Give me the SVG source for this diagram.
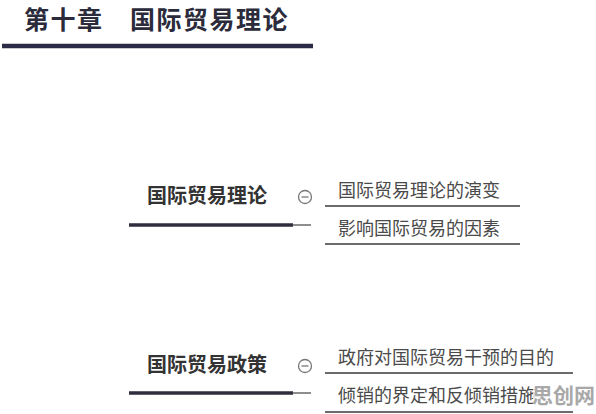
<svg xmlns="http://www.w3.org/2000/svg" width="596" height="414" viewBox="0 0 596 414">
<style>
.title{font-family:"Noto Sans CJK SC","Noto Sans",sans-serif;font-weight:bold;font-size:25px;letter-spacing:1.5px;fill:#2b2b3b}
.main{font-family:"Noto Sans CJK SC","Noto Sans",sans-serif;font-weight:bold;font-size:20px;fill:#333333}
.sub{font-family:"Noto Sans CJK SC","Noto Sans",sans-serif;font-size:18px;fill:#4a4a4a}
.thick{stroke:#2e2e3e;stroke-width:3.5;fill:none}
.thin{stroke:#444;stroke-width:1.2;fill:none}
.ul{stroke:#3a3a3a;stroke-width:1.3;fill:none}
.toggle{fill:#fff;stroke:#777;stroke-width:1.3}
.wm{font-family:"Noto Sans CJK SC",sans-serif;font-weight:bold;font-size:21px;fill:#a8a8a8}
</style>
<rect width="596" height="414" fill="#ffffff"/>
<g id="header">
<text class="title" x="24" y="29">第十章　国际贸易理论</text>
<line x1="2" y1="46" x2="313" y2="46" stroke="#2b2b45" stroke-width="4.5"/>
</g>
<g id="connectors">
<line class="thick" x1="129" y1="225" x2="293" y2="225"/>
<line class="thin" x1="292" y1="225" x2="311" y2="225"/>
<line class="thick" x1="129" y1="393" x2="293" y2="393"/>
<line class="thin" x1="292" y1="393" x2="311" y2="393"/>
</g>
<g id="node-theory">
<text class="main" x="147" y="203">国际贸易理论</text>
<circle class="toggle" cx="305" cy="197" r="6.5"/>
<line x1="301.5" y1="197" x2="308.5" y2="197" stroke="#777" stroke-width="1.3"/>
</g>
<g id="node-theory-evolution">
<text class="sub" x="338" y="197">国际贸易理论的演变</text>
<line class="ul" x1="325" y1="206" x2="520" y2="206"/>
</g>
<g id="node-theory-factors">
<text class="sub" x="338" y="235">影响国际贸易的因素</text>
<line class="ul" x1="325" y1="244" x2="520" y2="244"/>
</g>
<g id="node-policy">
<text class="main" x="147" y="372">国际贸易政策</text>
<circle class="toggle" cx="305" cy="366" r="6.5"/>
<line x1="301.5" y1="366" x2="308.5" y2="366" stroke="#777" stroke-width="1.3"/>
</g>
<g id="node-policy-purpose">
<text class="sub" x="338" y="364">政府对国际贸易干预的目的</text>
<line class="ul" x1="325" y1="373" x2="573" y2="373"/>
</g>
<g id="node-policy-dumping">
<text class="sub" x="338" y="402">倾销的界定和反倾销措施</text>
<line class="ul" x1="325" y1="412" x2="573" y2="412"/>
</g>
<g id="watermark">
<rect x="533" y="378" width="63" height="30" fill="#ffffff" opacity="0.75"/>
<text class="wm" x="532" y="403">思创网</text>
</g>
</svg>
